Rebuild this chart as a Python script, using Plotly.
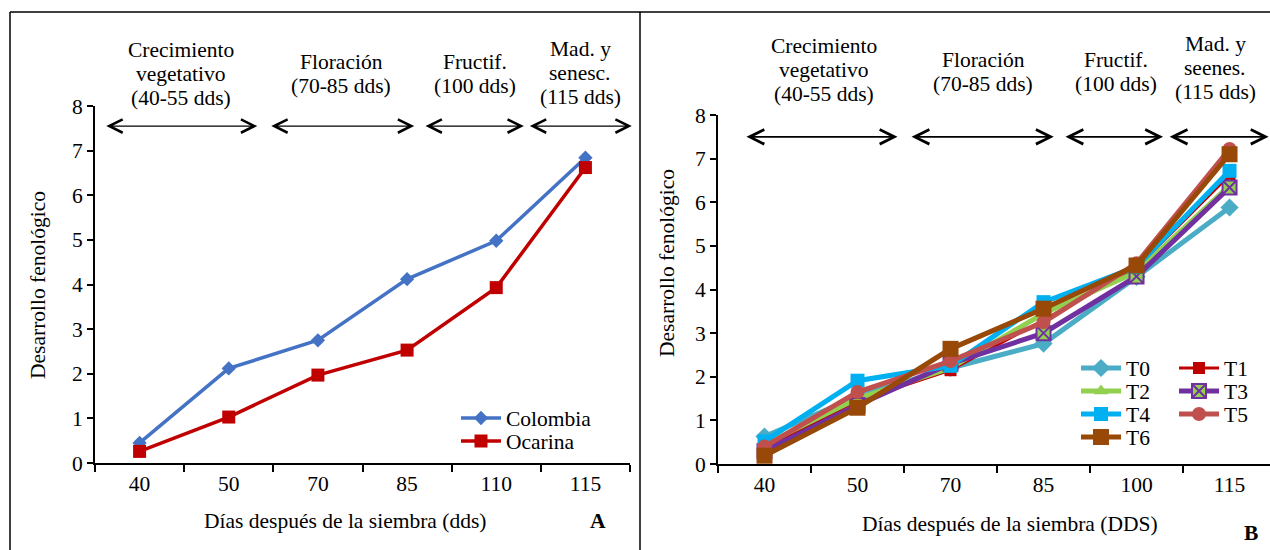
import plotly.graph_objects as go

W, H = 1270, 550

# ---------------- data ----------------
dias_a = ["40", "50", "70", "85", "110", "115"]
colombia = [0.45, 2.12, 2.75, 4.12, 4.98, 6.84]
ocarina = [0.26, 1.03, 1.97, 2.53, 3.93, 6.62]

dias_b = ["40", "50", "70", "85", "100", "115"]
t0 = [0.63, 1.55, 2.20, 2.76, 4.29, 5.88]
t1 = [0.35, 1.45, 2.15, 3.30, 4.50, 6.62]
t2 = [0.45, 1.50, 2.20, 3.45, 4.40, 6.38]
t3 = [0.30, 1.35, 2.30, 3.00, 4.30, 6.34]
t4 = [0.52, 1.91, 2.25, 3.71, 4.52, 6.72]
t5 = [0.40, 1.65, 2.36, 3.25, 4.60, 7.22]
t6 = [0.19, 1.29, 2.64, 3.56, 4.55, 7.10]

fases_a = [["Crecimiento", "vegetativo", "(40-55 dds)"], ["Floración", "(70-85 dds)"],
           ["Fructif.", "(100 dds)"], ["Mad. y", "senesc.", "(115 dds)"]]
fases_b = [["Crecimiento", "vegetativo", "(40-55 dds)"], ["Floración", "(70-85 dds)"],
           ["Fructif.", "(100 dds)"], ["Mad. y", "seenes.", "(115 dds)"]]

FONT = "'Liberation Serif', 'Times New Roman', Times, serif"
FS = 21.5


def px(x):
    return x / W


def py(y):
    return 1 - y / H


fig = go.Figure()

# ---------------- panel A ----------------
fig.add_trace(go.Scatter(x=dias_a, y=colombia, name="Colombia", mode="lines+markers",
                         line=dict(color="#4472C4", width=3.5),
                         marker=dict(symbol="diamond", size=11, color="#4472C4"),
                         xaxis="x", yaxis="y", legend="legend8"))
fig.add_trace(go.Scatter(x=dias_a, y=ocarina, name="Ocarina", mode="lines+markers",
                         line=dict(color="#C00000", width=3.5),
                         marker=dict(symbol="square", size=13, color="#C00000"),
                         xaxis="x", yaxis="y", legend="legend9"))

# ---------------- panel B ----------------
series_b = [
    ("T0", t0, "#4BACC6", "diamond", 14, 5, None, "legend"),
    ("T1", t1, "#C00000", "square", 12, 3, None, "legend2"),
    ("T2", t2, "#92D050", "triangle-up", 13, 5, None, "legend3"),
    ("T3", t3, "#7030A0", "square-x", 14, 5, "#92D050", "legend4"),
    ("T4", t4, "#00B0F0", "square", 14, 5, None, "legend5"),
    ("T5", t5, "#C0504D", "circle", 14, 5, None, "legend6"),
    ("T6", t6, "#984807", "square", 16, 5, None, "legend7"),
]
for name, vals, col, sym, size, lw, fill, lg in series_b:
    if fill:
        marker = dict(symbol=sym, size=size, color=fill, line=dict(color=col, width=2))
    else:
        marker = dict(symbol=sym, size=size, color=col)
    fig.add_trace(go.Scatter(x=dias_b, y=vals, name=name, mode="lines+markers",
                             line=dict(color=col, width=lw), marker=marker,
                             xaxis="x2", yaxis="y2", legend=lg, showlegend=True))

axis_common = dict(showline=True, linecolor="black", linewidth=2, showgrid=False,
                   zeroline=False, ticks="outside", tickcolor="black", tickwidth=2,
                   automargin=False,
                   tickfont=dict(family=FONT, size=FS, color="black"))


def leg(xp, yp):
    return dict(x=px(xp), y=py(yp), xanchor="left", yanchor="middle", visible=True,
                bgcolor="rgba(0,0,0,0)", itemwidth=40, tracegroupgap=0,
                font=dict(family=FONT, size=FS, color="black"))


fig.update_layout(
    width=W, height=H, autosize=False, showlegend=True,
    margin=dict(l=0, r=0, t=0, b=0, pad=0, autoexpand=False),
    paper_bgcolor="white", plot_bgcolor="rgba(0,0,0,0)",
    font=dict(family=FONT, size=FS, color="black"),
    xaxis=dict(domain=[px(95), px(630)], anchor="y", type="category",
               range=[-0.5, 5.5], tickson="boundaries", ticklen=7, **axis_common),
    yaxis=dict(domain=[py(463), py(106)], anchor="x", range=[0, 8], dtick=1,
               ticklen=6, **axis_common),
    xaxis2=dict(domain=[px(718), 1.0], anchor="y2", type="category",
                range=[-0.5, 5.435], tickson="boundaries", ticklen=7, **axis_common),
    yaxis2=dict(domain=[py(464), py(115)], anchor="x2", range=[0, 8], dtick=1,
                ticklen=6, **axis_common),
    legend=leg(1076, 368), legend2=leg(1174, 368),
    legend3=leg(1076, 391), legend4=leg(1174, 391),
    legend5=leg(1076, 414), legend6=leg(1174, 414),
    legend7=leg(1076, 437),
    legend8=leg(456, 418), legend9=leg(456, 441),
)

ann = []
# phase arrows (data coordinates)
arrows_a = [(-0.39, 1.32), (1.46, 3.08), (3.19, 4.31), (4.36, 5.52)]
arrows_b = [(-0.21, 1.43), (1.565, 3.11), (3.22, 4.285), (4.34, 5.42)]
for (a, b) in arrows_a:
    ann.append(dict(x=b, y=7.55, ax=a, ay=7.55, xref="x", yref="y", axref="x", ayref="y",
                    text="", showarrow=True, arrowhead=5, startarrowhead=5,
                    arrowside="end+start", arrowsize=2.2, startarrowsize=2.2,
                    arrowwidth=1.2, arrowcolor="black"))
for (a, b) in arrows_b:
    ann.append(dict(x=b, y=7.5, ax=a, ay=7.5, xref="x2", yref="y2", axref="x2", ayref="y2",
                    text="", showarrow=True, arrowhead=5, startarrowhead=5,
                    arrowside="end+start", arrowsize=1.6, startarrowsize=1.6,
                    arrowwidth=1.8, arrowcolor="black"))

# phase labels: (centre x, first line centre y) in pixels, 24 px line spacing
pos_a = [(181, 50), (341, 62), (475, 62), (580, 49)]
pos_b = [(824, 46), (983, 60), (1116, 60), (1215, 44)]
for lines, (x, y0) in zip(fases_a + fases_b, pos_a + pos_b):
    for i, t in enumerate(lines):
        ann.append(dict(x=px(x), y=py(y0 + 24 * i), xref="paper", yref="paper", text=t,
                        showarrow=False, font=dict(family=FONT, size=FS),
                        xanchor="center", yanchor="middle"))

# axis titles / panel letters
titles = [
    ("Desarrollo fenológico", 38, 285, -90, FS),
    ("Días después de la siembra (dds)", 345, 521, 0, FS),
    ("<b>A</b>", 598, 521, 0, FS),
    ("Desarrollo fenológico", 667, 263, -90, FS),
    ("Días después de la siembra (DDS)", 1010, 524, 0, FS),
    ("<b>B</b>", 1251, 533, 0, FS),
]
for txt, x, y, ang, fs in titles:
    ann.append(dict(x=px(x), y=py(y), xref="paper", yref="paper", text=txt,
                    textangle=ang, showarrow=False, xanchor="center", yanchor="middle",
                    font=dict(family=FONT, size=fs)))
fig.update_layout(annotations=ann)

# panel frames
line = dict(color="black", width=1.5)
fig.update_layout(shapes=[
    dict(type="line", xref="paper", yref="paper", x0=px(10), x1=px(10), y0=py(12), y1=0, line=line),
    dict(type="line", xref="paper", yref="paper", x0=px(10), x1=1, y0=py(12), y1=py(12), line=line),
    dict(type="line", xref="paper", yref="paper", x0=px(640), x1=px(640), y0=py(12), y1=0, line=line),
])

fig.write_html("out.html", config={"displayModeBar": False},
               post_script="document.body.style.margin='0';document.body.style.overflow='hidden';")
